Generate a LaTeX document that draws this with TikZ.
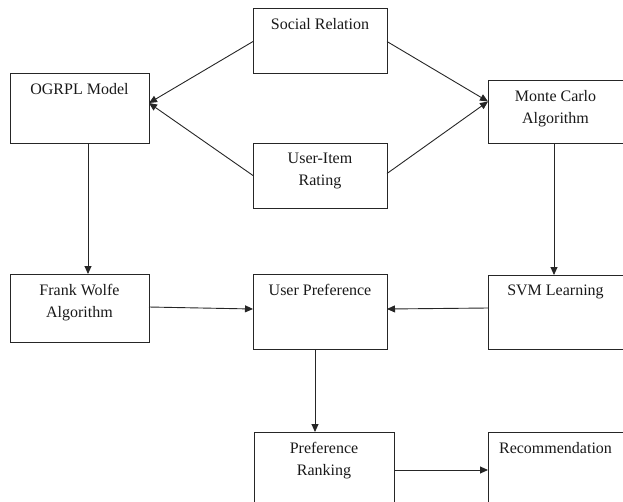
\documentclass[tikz,border=0pt]{standalone}
\usepackage{fontspec}
\setmainfont{Liberation Serif}
\usetikzlibrary{arrows.meta}
\begin{document}
\begin{tikzpicture}[x=1pt,y=-1pt,
  box/.style={draw=black!85, line width=1pt, inner sep=0pt, outer sep=0pt},
  txt/.style={font=\fontsize{16}{22}\selectfont, align=center, inner sep=0pt, anchor=north, text=black!90},
  conn/.style={draw=black!85, line width=0.9pt, -{Triangle[length=8pt,width=7pt]}}]
\useasboundingbox (0,0) rectangle (623,501);
\clip (0,0) rectangle (623,501);
% boxes
\node[box, minimum width=134pt, minimum height=65pt] (soc) at (320,40.5) {};
\node[box, minimum width=139pt, minimum height=70pt] (ogr) at (79.5,108) {};
\node[box, minimum width=134pt, minimum height=65pt] (uir) at (320,175.5) {};
\node[box, minimum width=135pt, minimum height=63pt] (mc) at (555.5,111.5) {};
\node[box, minimum width=139pt, minimum height=68pt] (fw) at (79.5,308) {};
\node[box, minimum width=134pt, minimum height=75pt] (up) at (320,311.5) {};
\node[box, minimum width=135pt, minimum height=74pt] (svm) at (555.5,312) {};
\node[box, minimum width=140pt, minimum height=88pt] (pr) at (324,476) {};
\node[box, minimum width=135pt, minimum height=88pt] (rec) at (555.5,476) {};
% texts
\node[txt] (soct) at ([yshift=-10pt]soc.north) {Social Relation};
\node[txt] (ogrt) at ([yshift=-10pt]ogr.north) {OGRPL Model};
\node[txt] (uirt) at ([yshift=-10pt]uir.north) {User-Item\\Rating};
\node[txt] (mct) at ([yshift=-10pt]mc.north) {Monte Carlo\\Algorithm};
\node[txt] (fwt) at ([yshift=-10pt]fw.north) {Frank Wolfe\\Algorithm};
\node[txt] (upt) at ([yshift=-10pt]up.north) {User Preference};
\node[txt] (svmt) at ([yshift=-10pt]svm.north) {SVM Learning};
\node[txt] (prt) at ([yshift=-10pt]pr.north) {Preference\\Ranking};
\node[txt] (rect) at ([yshift=-10pt]rec.north) {Recommendation};
% connectors
\draw[conn] ([yshift=-1pt]soc.west) -- ([yshift=5pt]ogr.east);
\draw[conn] (uir.west) -- ([yshift=5pt]ogr.east);
\draw[conn] ([yshift=-1pt]soc.east) -- ([yshift=10pt]mc.west);
\draw[conn] ([yshift=2pt]uir.east) -- ([yshift=10pt]mc.west);
\draw[conn] ([xshift=8.5pt]ogr.south) -- ([xshift=8.5pt]fw.north);
\draw[conn] ([yshift=1pt]fw.east) -- ([yshift=2.5pt]up.west);
\draw[conn] ([yshift=4pt]svm.west) -- ([yshift=2.5pt]up.east);
\draw[conn] ([xshift=-1.5pt]mc.south) -- ([xshift=-1.5pt]svm.north);
\draw[conn] ([xshift=-5pt]up.south) -- ([xshift=-9pt]pr.north);
\draw[conn] ([yshift=6pt]pr.east) -- ([yshift=6pt]rec.west);
\end{tikzpicture}
\end{document}
